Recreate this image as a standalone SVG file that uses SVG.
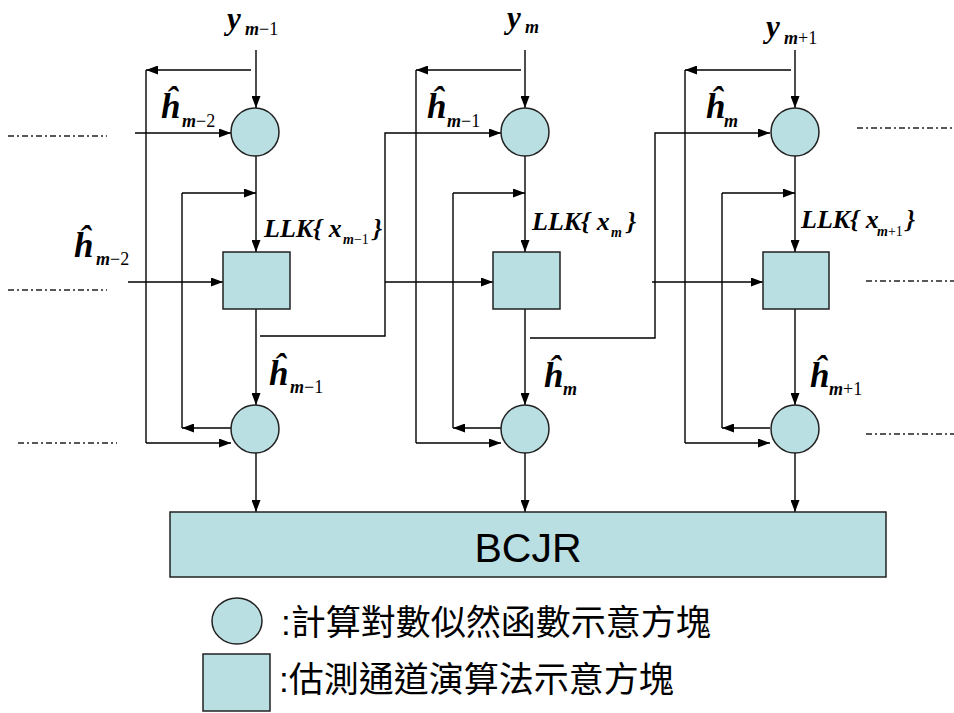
<svg xmlns="http://www.w3.org/2000/svg" width="954" height="713" viewBox="0 0 954 713">
<style>
.n{fill:#BADFE2;stroke:#222;stroke-width:1.5}
.c{fill:none;stroke:#000;stroke-width:1.4}
.d{fill:none;stroke:#222;stroke-width:1.3;stroke-dasharray:6 3 2 3}
.m{font-family:"Liberation Serif","Times New Roman",serif;font-weight:bold;font-style:italic}
.r{font-family:"Liberation Serif","Times New Roman",serif;font-weight:normal;font-style:normal}
.s{font-family:"Liberation Sans",Arial,sans-serif}
.cjk{font-family:"Liberation Sans","Noto Sans CJK TC",sans-serif}
</style>
<defs>
<marker id="a" viewBox="0 0 12 9" refX="12" refY="4.5" markerWidth="12" markerHeight="9" orient="auto" markerUnits="userSpaceOnUse"><path d="M0,0 L12,4.5 L0,9 z" fill="#000"/></marker>
</defs>
<rect width="954" height="713" fill="#fff"/>

<g id="connectors">
<!-- column 1 -->
<line class="c" x1="256" y1="50" x2="256" y2="108" marker-end="url(#a)"/>
<line class="c" x1="251" y1="70" x2="146" y2="70" marker-end="url(#a)"/>
<line class="c" x1="146" y1="70" x2="146" y2="443"/>
<line class="c" x1="146" y1="443" x2="231" y2="443" marker-end="url(#a)"/>
<line class="c" x1="135" y1="133" x2="231" y2="133" marker-end="url(#a)"/>
<line class="c" x1="256" y1="156" x2="256" y2="252" marker-end="url(#a)"/>
<line class="c" x1="182" y1="193" x2="256" y2="193" marker-end="url(#a)"/>
<line class="c" x1="182" y1="193" x2="182" y2="428"/>
<line class="c" x1="231" y1="428" x2="182" y2="428" marker-end="url(#a)"/>
<line class="c" x1="128" y1="282" x2="223" y2="282" marker-end="url(#a)"/>
<line class="c" x1="256" y1="309" x2="256" y2="405" marker-end="url(#a)"/>
<polyline class="c" points="260,336 385,336 385,133 501,133" marker-end="url(#a)"/>
<line class="c" x1="385" y1="282" x2="493" y2="282" marker-end="url(#a)"/>
<line class="c" x1="256" y1="453" x2="256" y2="512" marker-end="url(#a)"/>
<!-- column 2 -->
<line class="c" x1="525" y1="50" x2="525" y2="108" marker-end="url(#a)"/>
<line class="c" x1="521" y1="70" x2="416" y2="70" marker-end="url(#a)"/>
<line class="c" x1="416" y1="70" x2="416" y2="443"/>
<line class="c" x1="416" y1="443" x2="501" y2="443" marker-end="url(#a)"/>
<line class="c" x1="525" y1="156" x2="525" y2="252" marker-end="url(#a)"/>
<line class="c" x1="453" y1="193" x2="525" y2="193" marker-end="url(#a)"/>
<line class="c" x1="453" y1="193" x2="453" y2="428"/>
<line class="c" x1="501" y1="428" x2="453" y2="428" marker-end="url(#a)"/>
<line class="c" x1="525" y1="309" x2="525" y2="405" marker-end="url(#a)"/>
<polyline class="c" points="530,338 655,338 655,133 770,133" marker-end="url(#a)"/>
<line class="c" x1="652" y1="282" x2="763" y2="282" marker-end="url(#a)"/>
<line class="c" x1="525" y1="453" x2="525" y2="512" marker-end="url(#a)"/>
<!-- column 3 -->
<line class="c" x1="795" y1="50" x2="795" y2="108" marker-end="url(#a)"/>
<line class="c" x1="791" y1="70" x2="685" y2="70" marker-end="url(#a)"/>
<line class="c" x1="685" y1="70" x2="685" y2="443"/>
<line class="c" x1="685" y1="443" x2="770" y2="443" marker-end="url(#a)"/>
<line class="c" x1="795" y1="156" x2="795" y2="252" marker-end="url(#a)"/>
<line class="c" x1="722" y1="193" x2="795" y2="193" marker-end="url(#a)"/>
<line class="c" x1="722" y1="193" x2="722" y2="428"/>
<line class="c" x1="770" y1="428" x2="722" y2="428" marker-end="url(#a)"/>
<line class="c" x1="795" y1="309" x2="795" y2="405" marker-end="url(#a)"/>
<line class="c" x1="795" y1="453" x2="795" y2="512" marker-end="url(#a)"/>
<!-- continuation dash-dot lines -->
<line class="d" x1="8" y1="136" x2="107" y2="136"/>
<line class="d" x1="8" y1="290" x2="107" y2="290"/>
<line class="d" x1="18" y1="443" x2="117" y2="443"/>
<line class="d" x1="857" y1="128" x2="954" y2="128"/>
<line class="d" x1="866" y1="281" x2="954" y2="281"/>
<line class="d" x1="866" y1="434" x2="954" y2="434"/>
</g>

<g id="llk1"><circle class="n" cx="255" cy="132" r="24"/></g>
<g id="est1"><rect class="n" x="223" y="252" width="67" height="57"/></g>
<g id="llk1b"><circle class="n" cx="255" cy="429" r="24"/></g>
<g id="llk2"><circle class="n" cx="525" cy="132" r="24"/></g>
<g id="est2"><rect class="n" x="493" y="252" width="67" height="57"/></g>
<g id="llk2b"><circle class="n" cx="525" cy="429" r="24"/></g>
<g id="llk3"><circle class="n" cx="795" cy="132" r="24"/></g>
<g id="est3"><rect class="n" x="763" y="252" width="66" height="57"/></g>
<g id="llk3b"><circle class="n" cx="795" cy="429" r="24"/></g>

<g id="bcjr">
<rect class="n" x="170" y="512" width="716" height="65"/>
<text class="s" x="528" y="562" font-size="41" text-anchor="middle">BCJR</text>
</g>

<g id="labels">
<text class="m" x="227" y="29" font-size="31">y</text>
<text x="245" y="35" font-size="18"><tspan class="m">m</tspan><tspan class="r">−1</tspan></text>
<text class="m" x="507" y="28" font-size="31">y</text>
<text class="m" x="525" y="33" font-size="18">m</text>
<text class="m" x="766" y="37" font-size="31">y</text>
<text x="784" y="44" font-size="18"><tspan class="m">m</tspan><tspan class="r">+1</tspan></text>

<text class="m" x="161" y="118" font-size="35">ĥ</text>
<text x="182" y="127" font-size="18"><tspan class="m">m</tspan><tspan class="r">−2</tspan></text>
<text class="m" x="74" y="257" font-size="35">ĥ</text>
<text x="96" y="265" font-size="18"><tspan class="m">m</tspan><tspan class="r">−2</tspan></text>
<text class="m" x="269" y="385" font-size="35">ĥ</text>
<text x="290" y="393" font-size="18"><tspan class="m">m</tspan><tspan class="r">−1</tspan></text>
<text class="m" x="427" y="118" font-size="35">ĥ</text>
<text x="447" y="127" font-size="18"><tspan class="m">m</tspan><tspan class="r">−1</tspan></text>
<text class="m" x="544" y="387" font-size="35">ĥ</text>
<text class="m" x="563" y="395" font-size="18">m</text>
<text class="m" x="706" y="118" font-size="35">ĥ</text>
<text class="m" x="724" y="127" font-size="18">m</text>
<text class="m" x="810" y="387" font-size="35">ĥ</text>
<text x="829" y="395" font-size="18"><tspan class="m">m</tspan><tspan class="r">+1</tspan></text>

<text class="m" x="264" y="237" font-size="26">LLK{ x</text>
<text x="343" y="244" font-size="14"><tspan class="m">m</tspan><tspan class="r">−1</tspan></text>
<text class="m" x="373" y="237" font-size="26">}</text>
<text class="m" x="532" y="230" font-size="26">LLK{ x</text>
<text class="m" x="611" y="237" font-size="14">m</text>
<text class="m" x="627" y="230" font-size="26">}</text>
<text class="m" x="801" y="228" font-size="26">LLK{ x</text>
<text x="877" y="236" font-size="14"><tspan class="m">m</tspan><tspan class="r">+1</tspan></text>
<text class="m" x="906" y="228" font-size="26">}</text>
</g>

<g id="legend-circle">
<ellipse class="n" cx="237" cy="621" rx="25" ry="23"/>
<text class="cjk" x="281" y="635" font-size="35">:計算對數似然函數示意方塊</text>
</g>
<g id="legend-square">
<rect class="n" x="203" y="654" width="67" height="57"/>
<text class="cjk" x="279" y="692" font-size="35">:估測通道演算法示意方塊</text>
</g>
</svg>
